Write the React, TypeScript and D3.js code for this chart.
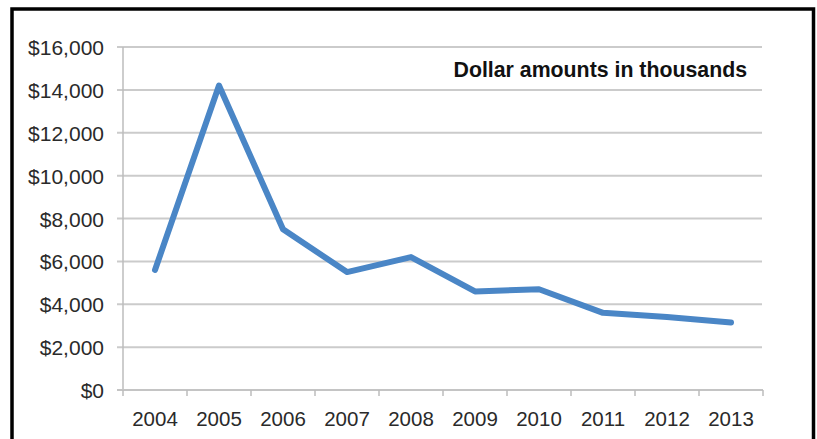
import React from "react";
import * as d3 from "d3";

const years = ["2004", "2005", "2006", "2007", "2008", "2009", "2010", "2011", "2012", "2013"];
const values = [5600, 14200, 7500, 5500, 6200, 4600, 4700, 3600, 3400, 3150];
const yTicks = [0, 2000, 4000, 6000, 8000, 10000, 12000, 14000, 16000];
const note = "Dollar amounts in thousands";

export default function App() {
  const W = 817, H = 439;
  const left = 123, right = 763, top = 47, bottom = 390;
  const x = d3.scaleBand<string>().domain(years).range([left, right]).padding(0);
  const y = d3.scaleLinear().domain([0, 16000]).range([bottom, top]);
  const fmt = (v: number) => "$" + d3.format(",")(v);
  const line = d3
    .line<number>()
    .x((_, i) => (x(years[i]) as number) + x.bandwidth() / 2)
    .y((d) => y(d));
  const boundaries = [...years.map((yr) => x(yr) as number), right];
  const font = "'Liberation Sans', Arial, sans-serif";

  return (
    <svg width={W} height={H} style={{ position: "absolute", left: 0, top: 0, background: "#fff" }}>
      <rect x={0} y={0} width={W} height={H} fill="#fff" />
      <rect x={12} y={9} width={801.5} height={500} fill="none" stroke="#000" strokeWidth={3.5} />
      {yTicks.map((t) => (
        <g key={t}>
          <line x1={117} x2={right - 1} y1={y(t)} y2={y(t)} stroke="#cbcbcb" strokeWidth={2} />
          <text
            x={104}
            y={y(t) + 8}
            textAnchor="end"
            fontFamily={font}
            fontSize={21}
            fill="#2a2a2a"
          >
            {fmt(t)}
          </text>
        </g>
      ))}
      <line x1={left} x2={left} y1={top} y2={bottom} stroke="#bdbdbd" strokeWidth={1.5} />
      <line x1={117} x2={right} y1={bottom} y2={bottom} stroke="#c4c4c4" strokeWidth={2} />
      {boundaries.map((b, i) => (
        <line key={i} x1={b} x2={b} y1={bottom} y2={bottom + 6} stroke="#bdbdbd" strokeWidth={1.5} />
      ))}
      {years.map((yr) => (
        <text
          key={yr}
          x={(x(yr) as number) + x.bandwidth() / 2}
          y={426}
          textAnchor="middle"
          fontFamily={font}
          fontSize={20.5}
          fill="#2a2a2a"
        >
          {yr}
        </text>
      ))}
      <path
        d={line(values) || ""}
        fill="none"
        stroke="#4a86c6"
        strokeWidth={6}
        strokeLinejoin="round"
        strokeLinecap="round"
      />
      <text x={747} y={77} textAnchor="end" fontFamily={font} fontSize={21.3} fontWeight="bold" fill="#111">
        {note}
      </text>
    </svg>
  );
}
